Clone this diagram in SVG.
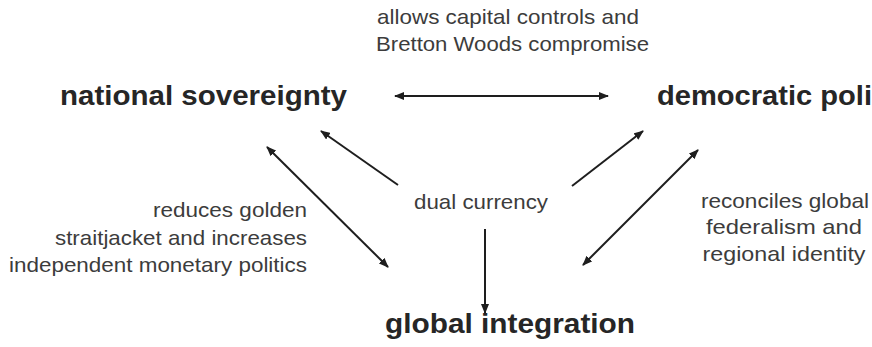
<svg xmlns="http://www.w3.org/2000/svg" width="872" height="347" viewBox="0 0 872 347">
<style>
.b{font-family:"Liberation Sans",Arial,sans-serif;font-weight:bold;font-size:28px;fill:#262626}
.r{font-family:"Liberation Sans",Arial,sans-serif;font-size:21px;fill:#3c3c3c}
.c{stroke:#1e1e1e;stroke-width:2;fill:none}
</style>
<defs>
<marker id="ah" viewBox="0 0 10 8" refX="9" refY="4" markerWidth="10" markerHeight="8" markerUnits="userSpaceOnUse" orient="auto-start-reverse">
<path d="M0,0 L10,4 L0,8 Z" fill="#1e1e1e"/>
</marker>
</defs>
<rect width="872" height="347" fill="#ffffff"/>
<g id="national-sovereignty"><text class="b" x="60" y="105" textLength="287" lengthAdjust="spacingAndGlyphs">national sovereignty</text></g>
<g id="democratic-politics"><text class="b" x="657" y="105" textLength="215" lengthAdjust="spacingAndGlyphs">democratic poli</text></g>
<g id="global-integration"><text class="b" x="385" y="333" textLength="250" lengthAdjust="spacingAndGlyphs">global integration</text></g>
<g id="dual-currency"><text class="r" x="414" y="209" textLength="134" lengthAdjust="spacingAndGlyphs">dual currency</text></g>
<g id="label-top">
<text class="r" x="377" y="24" font-size="22" textLength="262" lengthAdjust="spacingAndGlyphs">allows capital controls and</text>
<text class="r" x="376" y="51" font-size="22" textLength="273" lengthAdjust="spacingAndGlyphs">Bretton Woods compromise</text>
</g>
<g id="label-left">
<text class="r" x="153" y="217" textLength="154" lengthAdjust="spacingAndGlyphs">reduces golden</text>
<text class="r" x="55" y="245" textLength="252" lengthAdjust="spacingAndGlyphs">straitjacket and increases</text>
<text class="r" x="9" y="272" textLength="298" lengthAdjust="spacingAndGlyphs">independent monetary politics</text>
</g>
<g id="label-right">
<text class="r" x="785" y="208" text-anchor="middle" textLength="168" lengthAdjust="spacingAndGlyphs">reconciles global</text>
<text class="r" x="784" y="234" text-anchor="middle" textLength="156" lengthAdjust="spacingAndGlyphs">federalism and</text>
<text class="r" x="784" y="261" text-anchor="middle" textLength="163" lengthAdjust="spacingAndGlyphs">regional identity</text>
</g>
<g id="connectors">
<line class="c" x1="395" y1="96" x2="608" y2="96" marker-start="url(#ah)" marker-end="url(#ah)"/>
<line class="c" x1="398" y1="185" x2="321" y2="131" marker-end="url(#ah)"/>
<line class="c" x1="267" y1="147" x2="388" y2="267" marker-start="url(#ah)" marker-end="url(#ah)"/>
<line class="c" x1="572" y1="186" x2="643" y2="131" marker-end="url(#ah)"/>
<line class="c" x1="698" y1="150" x2="583" y2="265" marker-start="url(#ah)" marker-end="url(#ah)"/>
<line class="c" x1="485" y1="229" x2="485" y2="313" marker-end="url(#ah)"/>
</g>
</svg>
